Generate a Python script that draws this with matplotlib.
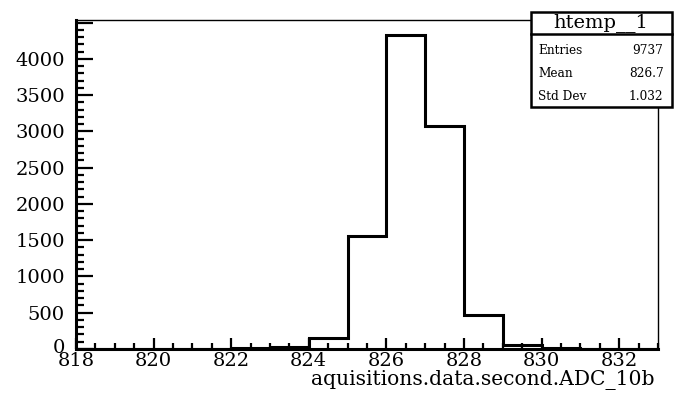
import matplotlib.pyplot as plt
import matplotlib.transforms as mtransforms
from matplotlib.patches import Rectangle
from matplotlib.ticker import MultipleLocator
import numpy as np

# ADC_10b histogram, 1-count bins from 818 to 833
bin_edges = np.arange(818, 834, 1)
counts = [0, 0, 0, 4, 9, 22, 156, 1560, 4325, 3075, 466, 62, 18, 0, 0]

hist_name = "htemp__1"
stat_names = ["Entries", "Mean", "Std Dev"]
stat_values = ["9737", "826.7", "1.032"]
x_title = "aquisitions.data.second.ADC_10b"

plt.rcParams['font.family'] = ['DejaVu Serif', 'Liberation Serif']

W, H = 692, 404
fig = plt.figure(figsize=(W / 100, H / 100), dpi=100)
fig.patch.set_facecolor('white')

x0, x1, y0, y1 = 76, 658, 20, 349
ax = fig.add_axes([x0 / W, 1 - y1 / H, (x1 - x0) / W, (y1 - y0) / H])

ax.stairs(counts, bin_edges, color='black', linewidth=2.2, baseline=0)

ax.set_xlim(818, 833)
ax.set_ylim(0, 4535)

ax.xaxis.set_major_locator(MultipleLocator(2))
ax.xaxis.set_minor_locator(MultipleLocator(0.5))
ax.yaxis.set_major_locator(MultipleLocator(500))
ax.yaxis.set_minor_locator(MultipleLocator(100))
# no label on the 4500 tick, it sits on the frame edge
ax.yaxis.set_major_formatter(lambda v, pos: "" if v > 4200 else f"{v:.0f}")

ax.tick_params(axis='both', which='both', direction='in', width=1.6, colors='black')
ax.tick_params(axis='x', which='major', length=8, pad=2, labelsize=14)
ax.tick_params(axis='x', which='minor', length=4)
ax.tick_params(axis='y', which='major', length=12, pad=8, labelsize=14)
ax.tick_params(axis='y', which='minor', length=6)

# lift the "0" label a little so it clears the x labels
fig.canvas.draw()
for tick in ax.yaxis.get_major_ticks():
    if abs(tick.get_loc()) < 1e-9:
        lbl = tick.label1
        lbl.set_transform(lbl.get_transform() +
                          mtransforms.ScaledTranslation(0, 3 / 100, fig.dpi_scale_trans))

ax.spines['left'].set_linewidth(2.2)
ax.spines['bottom'].set_linewidth(2.2)
ax.spines['top'].set_linewidth(1.0)
ax.spines['right'].set_linewidth(1.0)

fig.text(655 / W, 1 - 380 / H, x_title, ha='right', va='center', fontsize=14.6)

# stats box
bx0, bx1, by0, by1, bsep = 530.7, 671.7, 11.7, 107.3, 34.3
fig.patches.append(Rectangle((bx0 / W, 1 - by1 / H), (bx1 - bx0) / W, (by1 - by0) / H,
                             transform=fig.transFigure, facecolor='white',
                             edgecolor='black', linewidth=1.8, zorder=5))
fig.add_artist(plt.Line2D([bx0 / W, bx1 / W], [1 - bsep / H, 1 - bsep / H],
                          transform=fig.transFigure, color='black', linewidth=1.8, zorder=6))
fig.text((bx0 + bx1) / 2 / W, 1 - 23 / H, hist_name, ha='center', va='center',
         fontsize=14, zorder=7)
for i, (name, val) in enumerate(zip(stat_names, stat_values)):
    yy = 1 - (50 + i * 23.3) / H
    fig.text(538.5 / W, yy, name, ha='left', va='center', fontsize=8.7, zorder=7)
    fig.text(663.5 / W, yy, val, ha='right', va='center', fontsize=8.7, zorder=7)

fig.savefig('out.png', dpi=100)
